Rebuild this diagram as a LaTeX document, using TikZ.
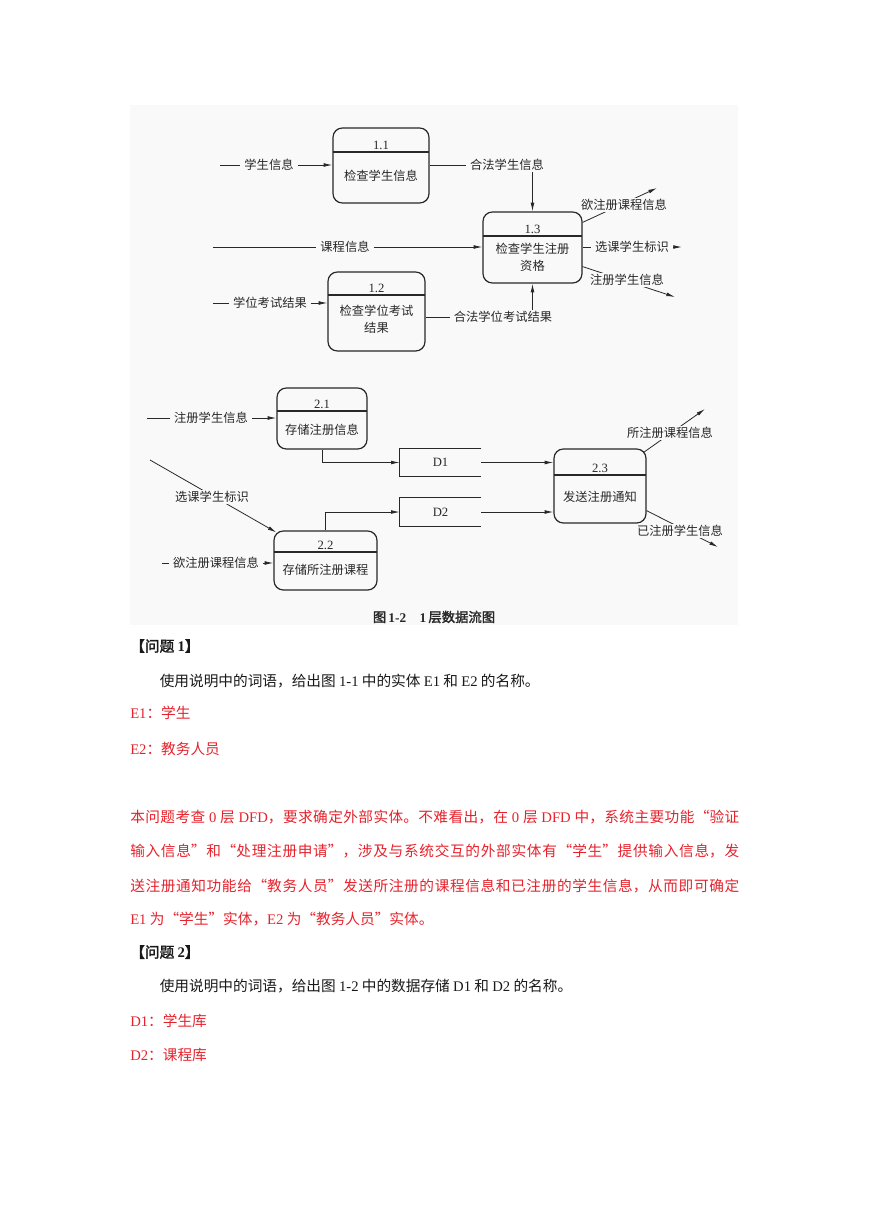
\documentclass[tikz,border=0pt]{standalone}
\usepackage{fontspec}
\setmainfont{Liberation Serif}
\newfontfamily\cjk{Noto Sans CJK SC}
\newfontfamily\cjkb[FakeBold=2]{Noto Sans CJK SC}
\newfontfamily\ser{Liberation Serif}
\usetikzlibrary{arrows.meta,calc,fit}
\XeTeXlinebreaklocale "zh"
\XeTeXlinebreakskip=0pt plus 1pt
\definecolor{redtxt}{RGB}{230,35,45}
\definecolor{figbg}{RGB}{249,249,249}
\definecolor{ink}{RGB}{40,40,40}
\newcommand\dgfont{\cjk\fontsize{9.2pt}{12.75pt}\selectfont}
\newcommand\nmfont{\ser\fontsize{9.5pt}{11pt}\selectfont}
\newcommand\bdfont{\cjk\fontsize{11pt}{14pt}\selectfont}
\newcommand\jline{\parfillskip=0pt\relax}
\begin{document}
\begin{tikzpicture}[x=0.75pt,y=-0.75pt,
  proc/.style={draw=ink, line width=0.9pt, rounded corners=7pt, inner sep=0pt},
  store/.style={inner sep=0pt},
  divline/.style={draw=ink, line width=1.2pt},
  flow/.style={draw=ink, line width=0.6pt, -{Latex[length=6.5pt,width=2.8pt]}},
  plainline/.style={draw=ink, line width=0.8pt},
  lab/.style={fill=figbg, inner xsep=3pt, inner ysep=1pt, text=ink, font=\dgfont},
  ptxt/.style={text=ink, font=\dgfont, align=center, inner sep=0pt},
  num/.style={text=ink, font=\nmfont, inner sep=0pt},
  body/.style={anchor=west, inner sep=0pt, font=\bdfont, text=black!90},
  ans/.style={body, text=redtxt}]
\useasboundingbox (0,0) rectangle (869,1228);
\fill[white] (0,0) rectangle (869,1228);
\fill[figbg] (130,105) rectangle (738,625);

% ---------- process boxes ----------
\node[proc, fit={(333,128) (429,203)}] (p11) {};
\draw[divline] (333,152) -- (429,152);
\node[num] (p11n) at (381,145.5) {1.1};
\node[ptxt] (p11t) at (381,176) {检查学生信息};

\node[proc, fit={(328,272) (425,351)}] (p12) {};
\draw[divline] (328,295) -- (425,295);
\node[num] (p12n) at (376.5,288.5) {1.2};
\node[ptxt] (p12t) at (376.5,319.5) {检查学位考试\\结果};

\node[proc, fit={(483,212) (582,283)}] (p13) {};
\draw[divline] (483,236) -- (582,236);
\node[num] (p13n) at (532.5,229.5) {1.3};
\node[ptxt] (p13t) at (532.5,257.5) {检查学生注册\\资格};

\node[proc, fit={(277,388) (367,449)}] (p21) {};
\draw[divline] (277,411) -- (367,411);
\node[num] (p21n) at (322,404) {2.1};
\node[ptxt] (p21t) at (322,429.5) {存储注册信息};

\node[proc, fit={(274,531) (377,590)}] (p22) {};
\draw[divline] (274,552) -- (377,552);
\node[num] (p22n) at (325.5,545.5) {2.2};
\node[ptxt] (p22t) at (325.5,569.5) {存储所注册课程};

\node[proc, fit={(554,449) (646,523)}] (p23) {};
\draw[divline] (554,475) -- (646,475);
\node[num] (p23n) at (600,468.5) {2.3};
\node[ptxt] (p23t) at (600,497) {发送注册通知};

% ---------- data stores ----------
\node[store, fit={(400,449) (481,476)}] (d1) {};
\draw[plainline] (d1.north east) -- (d1.north west) -- (d1.south west) -- (d1.south east);
\node[num] (d1t) at (d1.center) {D1};
\node[store, fit={(400,498) (481,526)}] (d2) {};
\draw[plainline] (d2.north east) -- (d2.north west) -- (d2.south west) -- (d2.south east);
\node[num] (d2t) at (d2.center) {D2};

% ---------- flows, part 1 ----------
\coordinate (s1) at (220,165);
\draw[flow] (s1) -- (p11.west |- s1);
\node[lab] (l1) at (269,165) {学生信息};

\coordinate (s2) at (213,247);
\draw[flow] (s2) -- (p13.west |- s2);
\node[lab] (l2) at (345,247) {课程信息};

\coordinate (s3) at (213,303);
\draw[flow] (s3) -- (p12.west |- s3);
\node[lab] (l3) at (270,303) {学位考试结果};

\draw[flow] (p11.east |- s1) -| (p13.north);
\node[lab] (l4) at (507,165) {合法学生信息};

\coordinate (c5) at (430,317);
\draw[flow] (p12.east |- c5) -| (p13.south);
\node[lab] (l5) at (503,317) {合法学位考试结果};

\coordinate (o6) at (657,188);
\draw[flow] ($(p13.north east)+(0,11)$) -- (o6);
\node[lab, inner xsep=1pt] (l6) at (624,205) {欲注册课程信息};

\coordinate (o7) at (682,247);
\draw[flow] (p13.east |- o7) -- (o7);
\node[lab] (l7) at (632,247) {选课学生标识};

\coordinate (o8) at (675,297);
\draw[flow] ($(p13.south east)+(0,-17)$) -- (o8);
\node[lab] (l8) at (627,280) {注册学生信息};

% ---------- flows, part 2 ----------
\coordinate (s9) at (147,418);
\draw[flow] (s9) -- (p21.west |- s9);
\node[lab] (l9) at (211,418) {注册学生信息};

\draw[flow] (p21.south) |- (d1.west);

\coordinate (s11) at (150,460);
\draw[flow] (s11) -- ($(p22.north west)+(3,2)$);
\node[lab] (l11) at (212,497) {选课学生标识};

\coordinate (s12) at (162,563);
\draw[flow] (s12) -- (p22.west |- s12);
\node[lab] (l12) at (216,563) {欲注册课程信息};

\draw[flow] (p22.north) |- (d2.west);
\draw[flow] (d1.east) -- (p23.west |- d1.east);
\draw[flow] (d2.east) -- (p23.west |- d2.east);

\coordinate (o16) at (705,409);
\draw[flow] ($(p23.north east)+(-3,4)$) -- (o16);
\node[lab] (l16) at (670,433) {所注册课程信息};

\coordinate (o17) at (718,547);
\draw[flow] ($(p23.south east)+(0,-13)$) -- (o17);
\node[lab] (l17) at (680,531) {已注册学生信息};

\node[text=ink, inner sep=0pt, font=\fontsize{10pt}{12pt}\selectfont] (cap) at (434,617)
  {{\cjkb 图}\,{\ser\bfseries 1-2}\quad{\ser\bfseries 1}\,{\cjkb 层数据流图}};

% ---------- body text ----------
\node[body] (q1) at (130,646) {{\cjkb 【问题 }{\ser\bfseries 1}{\cjkb 】}};
\node[body] (q1t) at (159.5,681) {使用说明中的词语，给出图 {\ser 1-1} 中的实体 {\ser E1} 和 {\ser E2} 的名称。};
\node[ans] (a1) at (130,713) {{\ser E1}：学生};
\node[ans] (a2) at (130,749) {{\ser E2}：教务人员};

\node[ans] (e1) at (130,817) {\parbox{456.75pt}{\jline 本问题考查 {\ser 0} 层 {\ser DFD}，要求确定外部实体。不难看出，在 {\ser 0} 层 {\ser DFD} 中，系统主要功能“验证}};
\node[ans] (e2) at (130,851) {\parbox{456.75pt}{\jline 输入信息”和“处理注册申请”，涉及与系统交互的外部实体有“学生”提供输入信息，发}};
\node[ans] (e3) at (130,886) {\parbox{456.75pt}{\jline 送注册通知功能给“教务人员”发送所注册的课程信息和已注册的学生信息，从而即可确定}};
\node[ans] (e4) at (130,919) {{\ser E1} 为“学生”实体，{\ser E2} 为“教务人员”实体。};

\node[body] (q2) at (130,952) {{\cjkb 【问题 }{\ser\bfseries 2}{\cjkb 】}};
\node[body] (q2t) at (159.5,986) {使用说明中的词语，给出图 {\ser 1-2} 中的数据存储 {\ser D1} 和 {\ser D2} 的名称。};
\node[ans] (b1) at (130,1021) {{\ser D1}：学生库};
\node[ans] (b2) at (130,1055) {{\ser D2}：课程库};
\end{tikzpicture}
\end{document}
